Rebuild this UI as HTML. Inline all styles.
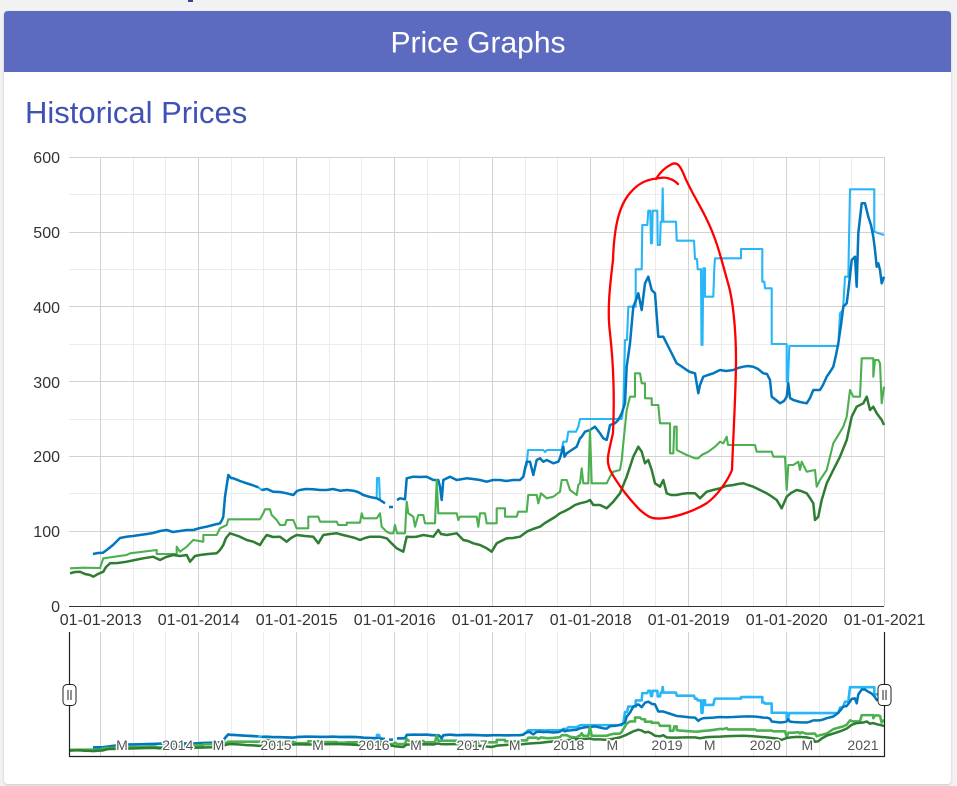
<!DOCTYPE html>
<html><head><meta charset="utf-8"><style>
html,body{margin:0;padding:0;background:#f2f2f2;}
svg{display:block;}
text{font-family:"Liberation Sans",Arial,sans-serif;}
</style></head><body>
<svg width="957" height="786" viewBox="0 0 957 786" xmlns="http://www.w3.org/2000/svg">
<defs>
<filter id="sh" x="-5%" y="-5%" width="110%" height="110%"><feDropShadow dx="0" dy="1" stdDeviation="1.2" flood-color="#000" flood-opacity="0.18"/></filter>
<g id="series" fill="none" stroke-linejoin="round">
<polyline vector-effect="non-scaling-stroke" stroke="#29b6f6" points="93,554 98,553 103,552.7 108,549 113,545 120,538 126.7,536.7 133,536 140,535 147,534 153,533 160,531 166.7,530 173,532 180,531 187,530 193.3,530 200,528 206.7,526.7 213,525 220,523.3 222,520 223.3,516.7 225,496.7 228.3,475 231,478 233.3,478.3 240,481 246.7,483.3 252,485 258.3,487.3 261.7,490 267,489 273,491.7 280,492 286.7,493.3 293.3,495 297,491 300,490 306,489 313,489.3 320,490 326.7,490 333,489 340,490.7 347,490 353.3,490.7 358,492 363.3,495 370,497 376.7,498.3 377,478 379,478 380,500 385,503.3"/>
<polyline vector-effect="non-scaling-stroke" stroke="#29b6f6" points="397,500 400,498.3 405,499.3 406.7,478.3 413.3,476.7 420,477 426.7,476.7 433.3,480 438.3,480 440,486.7 441.7,500 443.3,480 450,476.7 456.7,480 466.7,478.3 473,479 480,480 486.7,481.7 493,480 500,480 506,481 513.3,480 520,480 523.3,476.7 525,466.7 526.7,465 528,450 535,450 543.3,450 545,452 547,450 561.7,450 563.3,441.7 566.7,441.7 568.3,431.7 576,431.7 578.3,426.7 580,419 621.7,419 623.3,406.7 625,340 627,340 628.3,306.7 635.7,306.7 635.7,269.3 641.7,269.3 642.3,225 647.3,225 648.3,210.7 650.3,210.7 651,243.3 652,243.3 652.7,210.7 657.3,210.7 657.7,245 660,245 660.7,221.7 662,221.7 662.7,188.3 663.3,221.7 676,221.7 676.7,240.7 694,240.7 695,259 697,259 697.7,269.3 701,269.3 701.5,345 702.5,345 703.3,268.3 705,268.3 705,296.7 713.3,296.7 714.3,268.3 715,258.3 741,258.3 741,249 762.3,249 762.3,281.7 764.3,281.7 765,288.3 771.7,288.3 771.7,344 786.7,344 786.7,382 788,382 789.3,346 838.3,346 840,313.3 843,310 845,276.7 848.3,276.7 850,189.3 874.3,189.3 874.3,231.7 884,235"/>
<g stroke-width="2.5">
<polyline vector-effect="non-scaling-stroke" stroke="#0277bd" points="93,554 98,553 103,552.7 108,549 113,545 120,538 126.7,536.7 133,536 140,535 147,534 153,533 160,531 166.7,530 173,532 180,531 187,530 193.3,530 200,528 206.7,526.7 213,525 220,523.3 222,520 223.3,516.7 225,496.7 228.3,475 231,478 233.3,478.3 240,481 246.7,483.3 252,485 258.3,487.3"/>
<polyline vector-effect="non-scaling-stroke" stroke="#0277bd" points="261.7,490 267,489 273,491.7 280,492 286.7,493.3 293.3,495 297,491 300,490 306,489 313,489.3 320,490 326.7,490 333,489 340,490.7 347,490 353.3,490.7 358,492 363.3,495 370,497 376.7,498.3 380,500 385,503.3"/>
<polyline vector-effect="non-scaling-stroke" stroke="#0277bd" points="389,507 393,507"/>
<polyline vector-effect="non-scaling-stroke" stroke="#0277bd" points="397,500 400,498.3 405,499.3 406.7,478.3 413.3,476.7 420,477 426.7,476.7 433.3,480 438.3,480 440,486.7 441.7,500 443.3,480 450,476.7 456.7,480 466.7,478.3 473,479 480,480 486.7,481.7 493,480 500,480 506,481 513.3,480 520,480 523.3,476.7 526.7,461.7 530,461.7 533.3,475 536.7,460 540,458.3 543.3,461.7 546.7,460 553.3,463.3 558.3,461.7 560,458 563.3,446.7 564.5,456.7 566.7,453.3 571.7,450 576.7,446.7 580,438.3 581.7,436.7 585,431.7 590,430 595,426.7 600,433.3 603.3,438.3 606.7,440 608.3,433.3 610,425 615,423.3 618.3,420 621.7,413.3 625,403.3 626.7,366.7 630,343.3 633.3,306.7 636,300 638.3,293.3 641.7,310 645,283.3 648.3,276.7 651.7,290 655,293.3 658.3,336.7 663.3,336.7 670,350 676.7,363.3 681,366 686.7,370 690,372 695,373.3 698.3,393.3 700,385 703.3,376.7 708,375 713.3,373.3 720,370 726,371 733.3,370 738,368 743.3,366.7 748,366 753.3,366.7 758,369 763.3,373.3 767,374 770,380 771.7,396.7 776,400 780,403.3 784,401 786.7,396.7 788.3,383.3 790,398 793.3,400 800,402 806.7,403.3 810,398 813.3,390 820,390 823,385 826.7,376.7 830,372 833.3,366.7 836,355 838.3,343.3 841,325 843.3,306.7 846.7,303.3 849,285 851.7,260 855,256.7 856.7,286.7 858.3,233.3 861.7,203.3 865,203.3 868.3,216.7 871,225 873.3,236.7 875,250 876.7,266.7 878.3,263.3 880,270 881.7,283.3 884,276.7"/>
</g>
<polyline vector-effect="non-scaling-stroke" stroke="#4caf50" points="70,568.3 83.3,567.7 100,568 103.3,558.3 126.7,555 130,553.3 156.7,550 156.7,554 176.7,554 176.7,546.7 180,551.7 186.7,546.7 193.3,540 203.3,541.7 203.3,535 216.7,535 220,528.3 226.7,525 228.3,519.3 260,519.3 263.3,513.3 265,509.3 270,509.3 271.7,515 276.7,520 280,525 285,525 286.7,520 293.3,520 296.7,528.3 308.3,528.3 308.3,516.7 318.3,516.7 320,521.7 336.7,521.7 338.3,525 346.7,525 346.7,522.7 360,522.7 361.7,513.3 363.3,518.3 376.7,518.3 380,513.3 381.7,526.7 386.7,531.7 390,533.3 393.3,533.3 395,525 397,533.3 405,533.3 406.7,501.7 408.3,513.3 413.3,516.7 415,526.7 418.3,515 423.3,515 425,523.3 435,523.3 436.7,480 438.3,513.3 456.7,513.3 458.3,520 460,516.7 476.7,516.7 478.3,526.7 480,513.3 485,513.3 486.7,523.3 496.7,523.3 496.7,508.3 505,508.3 505,516.7 516.7,516.7 518.3,511.7 526.7,511.7 528.3,495 536.7,495 538.3,503.3 541,493.3 546.7,498.3 553.3,496.7 560,491.7 561.7,480 566.7,480 570,490 576.7,495 578.3,485 580,483.3 581.7,468.3 583.3,483.3 588.3,483.3 590,430 591.7,483.3 606.7,483.3 610,476.7 613.3,471.7 620,470 621.7,460 623.3,443.3 626.7,410 630,396.7 635,396.7 635,373.3 640,373.3 641.7,383.3 645,383.3 645,398.3 651.7,398.3 651.7,405 658.3,405 660,423.3 670,423.3 670,453.3 673.3,453.3 674.3,426.7 676.7,426.7 676.7,450 680,451.7 686.7,455 695,458.3 698.3,458.3 701.7,455 708.3,451.7 715,446.7 720,441.7 723.3,443.3 726.7,436.7 728,445 731.7,445 755,445 756.7,451.7 771.7,451.7 773.3,456.7 785,456.7 786.7,490 788.3,465 793.3,465 798.3,461.7 800,470 801.7,461.7 806.7,471.7 815,470 816.7,486.7 820,480 826.7,470 833.3,443.3 843.3,426.7 846.7,416.7 850,390 853.3,396.7 860,396.7 861.7,358.3 873.3,358.3 873.3,376.7 875,360 878.3,360 880,363.3 881.7,403.3 884,386.7"/>
<polyline stroke-width="2.5" vector-effect="non-scaling-stroke" stroke="#2e7d32" points="70,573.3 75,572 80,571.7 85,574 90,575 93.3,576.7 98,574 103.3,571.7 106,567 110,563.3 118,563 126.7,561.7 135,560 143.3,558.3 153.3,556.7 160,560 166,557 173.3,555 180,556 186.7,555 190,561.7 195,556 200,555 208,554 216.7,553.3 220,550 223.3,545 226,538 230,533.3 235,535 240,536.7 246.7,540 253.3,541.7 260,545 263,540 266.7,535 273,537 280,536.7 286.7,541.7 291,538 296.7,535 305,536 313.3,536.7 318.3,543.3 323.3,535 330,534 336.7,533.3 343,535 350,536.7 355,538 360,540 365,538 370,536.7 380,536.7 386.7,538.3 390,541.7 393.3,545 396.7,548.3 400,550 403.3,551.7 406.7,536.7 411,537 416.7,536.7 423.3,535 433.3,536.7 438.3,530 441,534 446.7,535 456.7,533.3 463.3,540 468,541 473.3,543.3 480,545 486.7,548.3 491.7,551.7 496.7,543.3 506.7,538.3 513,538 520,536.7 526.7,531.7 533,529 540,526.7 545,523 550,520 555,517 560,513.3 565,511 570,508.3 575,505 580,503.3 586.7,501.7 590,500 593.3,505 596.7,505 600,505 606.7,508.3 613.3,501.7 620,493.3 626.7,476.7 633.3,456.7 638.3,446.7 641.7,451.7 645,463.3 648.3,460 651.7,470 655,483.3 660,486.7 663.3,480 666.7,493.3 671,495 676.7,495 681,494 686.7,493.3 695,493.3 700,498.3 706.7,491.7 713,490 720,488.3 726,486 733.3,485 738,484 743.3,483.3 748,485 753.3,486.7 760,490 766.7,493.3 771,496 776.7,500 781.7,508.3 786.7,496.7 791,493 796.7,490 801,491 806.7,493.3 810,498 813.3,503.3 815,520 818.3,516.7 821.7,500 826.7,483.3 833.3,470 840,456.7 846.7,440 851.7,416.7 856.7,406.7 863.3,403.3 866.7,396.7 870,410 873.3,406.7 876.7,413.3 881.7,420 884,425"/>
</g>
</defs>

<rect x="0" y="0" width="957" height="786" fill="#f2f2f2"/>
<rect x="188" y="0" width="5" height="2" fill="#3340a0"/>
<!-- card -->
<rect x="4" y="11" width="947" height="773" rx="4" fill="#ffffff" filter="url(#sh)"/>
<path d="M4,72 V15 Q4,11 8,11 H947 Q951,11 951,15 V72 Z" fill="#5c6bc0"/>
<text x="478" y="52.5" font-size="30" fill="#ffffff" text-anchor="middle">Price Graphs</text>
<text x="25" y="123" font-size="31" fill="#3f51b5">Historical Prices</text>

<!-- minor grid -->
<g stroke="#ececec" stroke-width="1">
<path d="M69,194.5H884M69,269.5H884M69,344.5H884M69,419.5H884M69,493.5H884M69,568.5H884"/>
<path d="M133.5,157V606M165.5,157V606M231.5,157V606M263.5,157V606M329.5,157V606M361.5,157V606M427.5,157V606M459.5,157V606M525.5,157V606M557.5,157V606M623.5,157V606M655.5,157V606M721.5,157V606M753.5,157V606M819.5,157V606M851.5,157V606"/>
<path d="M133.5,632V756M165.5,632V756M231.5,632V756M263.5,632V756M329.5,632V756M361.5,632V756M427.5,632V756M459.5,632V756M525.5,632V756M557.5,632V756M623.5,632V756M655.5,632V756M721.5,632V756M753.5,632V756M819.5,632V756M851.5,632V756"/>
</g>
<!-- major grid -->
<g stroke="#d2d2d2" stroke-width="1">
<path d="M69,157.5H884M69,232.5H884M69,306.5H884M69,381.5H884M69,456.5H884M69,531.5H884"/>
<path d="M100.5,157V606M198.5,157V606M296.5,157V606M394.5,157V606M492.5,157V606M590.5,157V606M688.5,157V606M786.5,157V606M884.5,157V606"/>
<path d="M100.5,632V756M198.5,632V756M296.5,632V756M394.5,632V756M492.5,632V756M590.5,632V756M688.5,632V756M786.5,632V756"/>
</g>

<!-- main series -->
<use href="#series" stroke-width="2.1"/>

<!-- annotation -->
<path d="M678,184 C672,178 665,177 660,178 C650,179 640,181 630,193 C618,207 614,230 613,260 C610,285 607,310 610,333 C613,360 615,390 613,433 C608,455 606,460 610,470 C618,485 630,500 640,510 C648,517 652,520 666,518 C680,516 696,510 707,503 C718,495 728,480 732,470 C733,440 736,390 736,360 C736,330 733,300 728,283 C722,262 717,240 707,220 C700,205 690,190 684,175 C680,165 677,162 672,164 C666,167 660,172 656,179" fill="none" stroke="#ff0000" stroke-width="2.3" stroke-linecap="round"/>

<!-- x axis -->
<path d="M69,606.5H884" stroke="#333" stroke-width="1"/>
<g font-size="16" fill="#333">
<g text-anchor="end">
<text x="60" y="163">600</text>
<text x="60" y="238">500</text>
<text x="60" y="313">400</text>
<text x="60" y="388">300</text>
<text x="60" y="462">200</text>
<text x="60" y="537">100</text>
<text x="60" y="612">0</text>
</g>
<g text-anchor="middle">
<text x="100.7" y="625">01-01-2013</text>
<text x="198.7" y="625">01-01-2014</text>
<text x="296.7" y="625">01-01-2015</text>
<text x="394.7" y="625">01-01-2016</text>
<text x="492.7" y="625">01-01-2017</text>
<text x="590.7" y="625">01-01-2018</text>
<text x="688.7" y="625">01-01-2019</text>
<text x="786.7" y="625">01-01-2020</text>
<text x="884.5" y="625">01-01-2021</text>
</g>
</g>

<!-- navigator -->
<use href="#series" stroke-width="2.6" transform="matrix(1 0 0 0.165 0 656)"/>
<g font-size="14" fill="#555" text-anchor="middle" stroke="#fff" stroke-width="3" paint-order="stroke" stroke-linejoin="round">
<text x="122" y="750">M</text>
<text x="177.8" y="750">2014</text>
<text x="218.5" y="750">M</text>
<text x="276" y="750">2015</text>
<text x="318" y="750">M</text>
<text x="374" y="750">2016</text>
<text x="416" y="750">M</text>
<text x="472" y="750">2017</text>
<text x="514.7" y="750">M</text>
<text x="568.7" y="750">2018</text>
<text x="612.3" y="750">M</text>
<text x="667" y="750">2019</text>
<text x="709.7" y="750">M</text>
<text x="765.3" y="750">2020</text>
<text x="807.3" y="750">M</text>
<text x="863" y="750">2021</text>
</g>
<path d="M69.5,632V756.5H884.5V632" fill="none" stroke="#222" stroke-width="1.2"/>
<g fill="#fff" stroke="#222" stroke-width="1">
<rect x="63" y="684.5" width="13" height="21" rx="4"/>
<rect x="878" y="684.5" width="13" height="21" rx="4"/>
</g>
<g stroke="#222" stroke-width="1">
<path d="M68,690V700M71,690V700M883,690V700M886,690V700"/>
</g>
</svg>
</body></html>
